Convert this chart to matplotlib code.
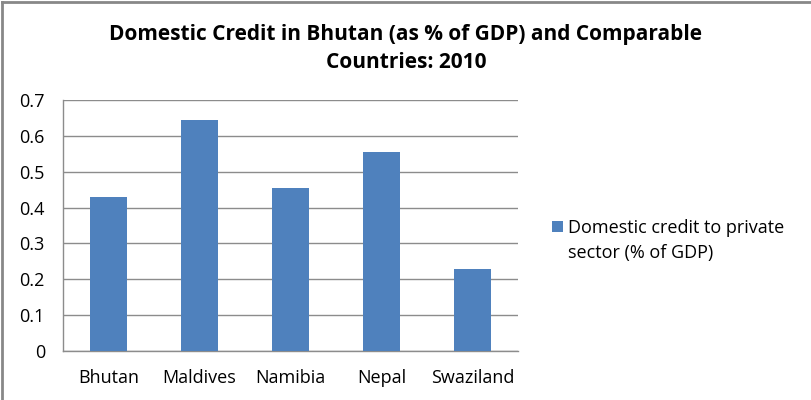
import matplotlib
matplotlib.use('Agg')
import matplotlib.pyplot as plt
from matplotlib.lines import Line2D

# Domestic credit to private sector (% of GDP), 2010
countries = ['Bhutan', 'Maldives', 'Namibia', 'Nepal', 'Swaziland']
credit = [0.430, 0.644, 0.455, 0.554, 0.228]
series_label = ['Domestic credit to private', 'sector (% of GDP)']
title = 'Domestic Credit in Bhutan (as % of GDP) and Comparable\nCountries: 2010'
yticks = [0, 0.1, 0.2, 0.3, 0.4, 0.5, 0.6, 0.7]

bar_color = '#4F81BD'
grid_color = '#8C8C8C'
plt.rcParams['font.family'] = ['Open Sans', 'DejaVu Sans']

fig = plt.figure(figsize=(8.12, 4.0), dpi=100)
ax = fig.add_axes([63 / 812, 49 / 400, 455 / 812, 251 / 400])

x = range(len(countries))
bars = ax.bar(x, credit, width=0.4, color=bar_color, zorder=3)

ax.set_xlim(-0.5, len(countries) - 0.5)
ax.set_ylim(0, 0.7)
ax.set_yticks(yticks)
ax.set_yticklabels([f'{t:g}' for t in yticks])
ax.set_xticks(list(x))
ax.set_xticklabels(countries)
ax.tick_params(axis='both', length=0, labelsize=13, colors='#000000')
ax.tick_params(axis='y', pad=13)
ax.tick_params(axis='x', pad=13)

ax.yaxis.grid(True, color=grid_color, linewidth=1.0, zorder=0)
for side in ['top', 'right']:
    ax.spines[side].set_visible(False)
for side in ['left', 'bottom']:
    ax.spines[side].set_color(grid_color)
    ax.spines[side].set_linewidth(1.0)

fig.text(0.5, 0.94, title, ha='center', va='top', fontsize=15, fontweight='bold',
         linespacing=1.45)

# legend key sits beside the first line of the wrapped label
leg = fig.legend(handles=[bars], labels=[series_label[0]], loc='center left',
                 bbox_to_anchor=(545 / 812, 1 - 228 / 400), frameon=False,
                 fontsize=13, handlelength=0.6, handleheight=0.6,
                 handletextpad=0.3, borderaxespad=0)
fig.canvas.draw()
first = leg.get_texts()[0].get_window_extent()
fig.text(first.x0 / 812, (first.y0 - 25) / 400, series_label[1], fontsize=13,
         ha='left', va='bottom')

# outer chart frame (left and top edges)
fig.add_artist(Line2D([2.5 / 812, 2.5 / 812], [0, 1 - 1.5 / 400], color='#888888',
                      linewidth=2, transform=fig.transFigure))
fig.add_artist(Line2D([2 / 812, 1], [1 - 2 / 400, 1 - 2 / 400], color='#888888',
                      linewidth=2, transform=fig.transFigure))

fig.savefig('out.png', dpi=100, facecolor='white')
